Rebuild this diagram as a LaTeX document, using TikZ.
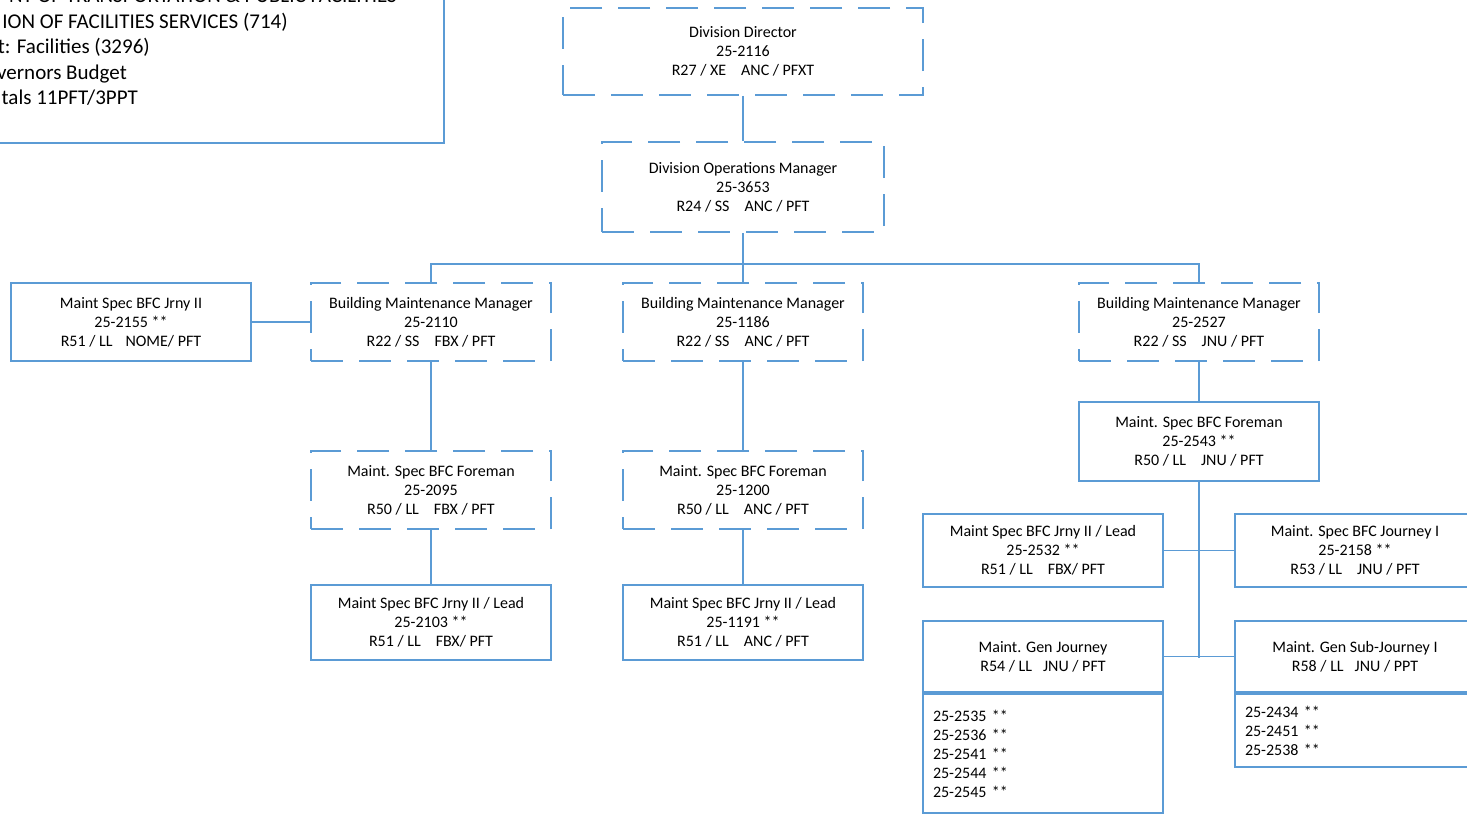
\documentclass[tikz,border=0pt]{standalone}
\usepackage{fontspec}
\setmainfont{Carlito}
\definecolor{ln}{HTML}{5B9BD5}
\begin{document}
\begin{tikzpicture}[x=1pt,y=-1pt,
  box/.style={draw=ln, line width=1.8pt, minimum width=240pt, minimum height=78pt,
    align=center, font=\fontsize{16}{19}\selectfont, inner sep=0pt},
  dbox/.style={box, dash pattern=on 32pt off 16pt},
  conn/.style={draw=ln, line width=1.8pt},
  hdrtxt/.style={font=\fontsize{21}{25.5}\selectfont, inner sep=0pt}]
\useasboundingbox (0,0) rectangle (1467,814);
\clip (0,0) rectangle (1467,814);
% header box
\node[draw=ln, line width=1.8pt, anchor=north west, minimum width=463pt, minimum height=162pt, inner sep=0pt] (hdr) at (-20,-20) {};
\node[hdrtxt, anchor=base east] (h1) at (397,2.5) {NT OF TRANSPORTATION \& PUBLIC FACILITIES};
\node[hdrtxt, anchor=base east] (h2) at (288,28) {ION OF FACILITIES SERVICES (714)};
\node[hdrtxt, anchor=base east] (h3) at (150,53.5) {t: Facilities (3296)};
\node[hdrtxt, anchor=base east] (h4) at (127,79) {vernors Budget};
\node[hdrtxt, anchor=base east] (h5) at (138,104.5) {tals 11PFT/3PPT};
% nodes
\node[dbox, minimum width=360pt, minimum height=87pt] (dd) at (743,51.5) {Division Director\\25-2116\\R27 / XE\hspace{15pt}ANC / PFXT};
\node[dbox, minimum width=282pt, minimum height=90pt] (dom) at (743,187) {Division Operations Manager\\25-3653\\R24 / SS\hspace{15pt}ANC / PFT};
\node[dbox] (bmA) at (431,322) {Building Maintenance Manager\\25-2110\\R22 / SS\hspace{15pt}FBX / PFT};
\node[dbox] (bmB) at (743,322) {Building Maintenance Manager\\25-1186\\R22 / SS\hspace{15pt}ANC / PFT};
\node[dbox] (bmC) at (1199,322) {Building Maintenance Manager\\25-2527\\R22 / SS\hspace{15pt}JNU / PFT};
\node[box] (js) at (131,322) {Maint Spec BFC Jrny II\\25-2155 **\\R51 / LL\hspace{13pt}NOME/ PFT};
\node[dbox] (fA) at (431,490) {Maint. Spec BFC Foreman\\25-2095\\R50 / LL\hspace{15pt}FBX / PFT};
\node[dbox] (fB) at (743,490) {Maint. Spec BFC Foreman\\25-1200\\R50 / LL\hspace{15pt}ANC / PFT};
\node[box, minimum height=75pt] (lA) at (431,622.5) {Maint Spec BFC Jrny II / Lead\\25-2103 **\\R51 / LL\hspace{15pt}FBX/ PFT};
\node[box, minimum height=75pt] (lB) at (743,622.5) {Maint Spec BFC Jrny II / Lead\\25-1191 **\\R51 / LL\hspace{15pt}ANC / PFT};
\node[box, minimum height=79pt] (fC) at (1199,441.5) {Maint. Spec BFC Foreman\\25-2543 **\\R50 / LL\hspace{15pt}JNU / PFT};
\node[box, minimum height=73pt] (lC) at (1043,550.5) {Maint Spec BFC Jrny II / Lead\\25-2532 **\\R51 / LL\hspace{15pt}FBX/ PFT};
\node[box, minimum height=73pt] (jC) at (1355,550.5) {Maint. Spec BFC Journey I\\25-2158 **\\R53 / LL\hspace{15pt}JNU / PFT};
\node[box, minimum height=71pt] (gj) at (1043,656.5) {Maint. Gen Journey\\R54 / LL\hspace{11pt}JNU / PFT};
\node[box, minimum height=119pt, text width=220pt, align=left] (gjl) at (1043,753.5) {25-2535 **\\25-2536 **\\25-2541 **\\25-2544 **\\25-2545 **};
\node[box, minimum height=71pt] (gs) at (1355,656.5) {Maint. Gen Sub-Journey I\\R58 / LL\hspace{11pt}JNU / PPT};
\node[box, minimum height=73pt, text width=220pt, align=left] (gsl) at (1355,730.5) {25-2434 **\\25-2451 **\\25-2538 **};
% connectors
\coordinate (bus) at (743,264);
\coordinate (jb) at (1199,658);
\draw[conn] (dd.south) -- (dom.north);
\draw[conn] (dom.south) -- (bus);
\draw[conn] (bmA.north) |- (bus) -| (bmC.north);
\draw[conn] (bus) -- (bmB.north);
\draw[conn] (js.east) -- (bmA.west);
\draw[conn] (bmA.south) -- (fA.north);
\draw[conn] (fA.south) -- (lA.north);
\draw[conn] (bmB.south) -- (fB.north);
\draw[conn] (fB.south) -- (lB.north);
\draw[conn] (bmC.south) -- (fC.north);
\draw[conn] (fC.south) -- (jb);
\draw[conn] (lC.east) -- (jC.west);
\draw[conn] (gj.east) -- (gs.west);
\end{tikzpicture}
\end{document}
